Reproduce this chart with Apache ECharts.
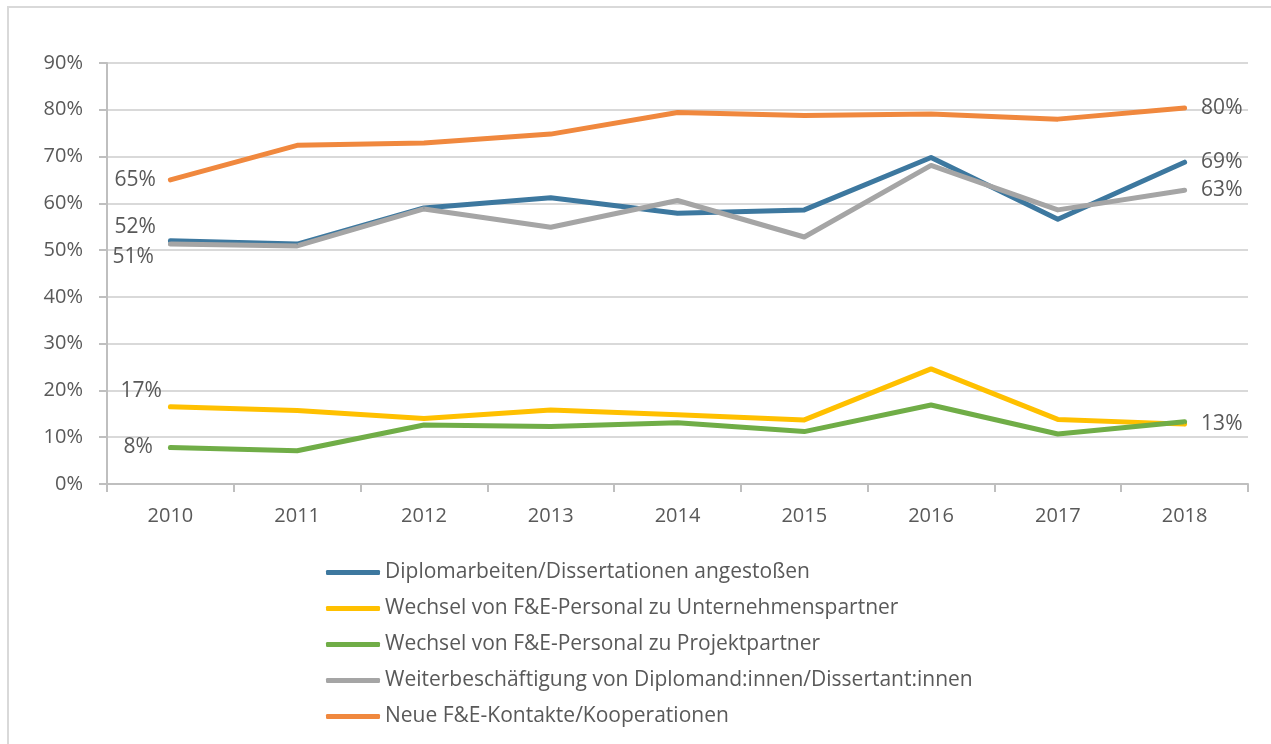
<!DOCTYPE html>
<html>
<head>
<meta charset="utf-8">
<script src="https://cdn.jsdelivr.net/npm/echarts@6/dist/echarts.min.js"></script>
<style>
  html, body { margin: 0; padding: 0; background: #fff; }
  #chart { width: 1271px; height: 744px; }
</style>
</head>
<body>
<div id="chart"></div>
<script>
// Jahre
const years = ['2010', '2011', '2012', '2013', '2014', '2015', '2016', '2017', '2018'];

// Anteile in %
const diplomarbeiten = [52.0, 51.3, 59.0, 61.2, 57.9, 58.6, 69.8, 56.6, 68.8];
const wechselUnternehmen = [16.5, 15.7, 14.0, 15.8, 14.8, 13.7, 24.6, 13.8, 12.8];
const wechselProjekt = [7.8, 7.1, 12.6, 12.3, 13.1, 11.2, 16.9, 10.7, 13.3];
const weiterbeschaeftigung = [51.3, 50.9, 58.8, 54.9, 60.6, 52.8, 68.1, 58.6, 62.8];
const neueKontakte = [65.0, 72.4, 72.9, 74.8, 79.4, 78.8, 79.1, 78.0, 80.4];

const yTicks = [0, 10, 20, 30, 40, 50, 60, 70, 80, 90];

const textColor = '#595959';
const fontFamily = '"Open Sans", sans-serif';

const chart = echarts.init(document.getElementById('chart'));

// Beschriftung nur am ersten und letzten Punkt
function withLabels(values, first, last) {
  return values.map((v, i) => {
    let lab = null;
    if (i === 0 && first) lab = first;
    if (i === values.length - 1 && last) lab = last;
    if (!lab) return v;
    return {
      value: v,
      label: Object.assign({
        show: true,
        formatter: (p) => Math.round(p.value) + '%',
        color: textColor,
        fontSize: 21,
        fontFamily: fontFamily
      }, lab)
    };
  });
}

function lineSeries(name, color, data) {
  return {
    name: name,
    type: 'line',
    data: data,
    // kleines Symbol, damit die Labels gezeichnet werden
    symbol: 'circle',
    symbolSize: 1,
    showSymbol: true,
    lineStyle: { color: color, width: 5, cap: 'round', join: 'round' },
    itemStyle: { color: color },
    emphasis: { disabled: true },
    animation: false
  };
}

const option = {
  backgroundColor: '#fff',
  graphic: [{
    type: 'rect',
    shape: { x: 8, y: 7, width: 1300, height: 800 },
    style: { fill: 'none', stroke: '#d9d9d9', lineWidth: 2 },
    silent: true
  }],
  grid: { left: 107, right: 23, top: 63, bottom: 260 },
  legend: {
    orient: 'vertical',
    left: 321,
    top: 557,
    itemWidth: 54,
    itemHeight: 5,
    itemGap: 15,
    icon: 'roundRect',
    textStyle: { color: textColor, fontSize: 21, fontFamily: fontFamily },
    data: [
      'Diplomarbeiten/Dissertationen angestoßen',
      'Wechsel von F&E-Personal zu Unternehmenspartner',
      'Wechsel von F&E-Personal zu Projektpartner',
      'Weiterbeschäftigung von Diplomand:innen/Dissertant:innen',
      'Neue F&E-Kontakte/Kooperationen'
    ]
  },
  xAxis: {
    type: 'category',
    data: years,
    boundaryGap: true,
    axisLine: { lineStyle: { color: '#bfbfbf', width: 2 } },
    axisTick: { show: true, length: 8, lineStyle: { color: '#bfbfbf', width: 2 } },
    axisLabel: { color: textColor, fontSize: 20, fontFamily: fontFamily, margin: 22 },
    splitLine: { show: false }
  },
  yAxis: {
    type: 'value',
    min: yTicks[0],
    max: yTicks[yTicks.length - 1],
    interval: 10,
    axisLine: { show: true, lineStyle: { color: '#bfbfbf', width: 2 } },
    axisTick: { show: true, length: 8, lineStyle: { color: '#bfbfbf', width: 2 } },
    axisLabel: { color: textColor, fontSize: 20, fontFamily: fontFamily, margin: 24, formatter: '{value}%' },
    splitLine: { lineStyle: { color: '#d9d9d9', width: 2 } }
  },
  series: [
    lineSeries('Diplomarbeiten/Dissertationen angestoßen', '#3d789f',
      withLabels(diplomarbeiten, { position: 'left', distance: 14, offset: [0, -14] }, { position: 'right', distance: 16 })),
    lineSeries('Wechsel von F&E-Personal zu Unternehmenspartner', '#ffc000',
      withLabels(wechselUnternehmen, { position: 'left', distance: 8, offset: [0, -16] }, null)),
    lineSeries('Wechsel von F&E-Personal zu Projektpartner', '#70ad47',
      withLabels(wechselProjekt, { position: 'left', distance: 17 }, { position: 'right', distance: 16, offset: [0, 2] })),
    lineSeries('Weiterbeschäftigung von Diplomand:innen/Dissertant:innen', '#a5a5a5',
      withLabels(weiterbeschaeftigung, { position: 'left', distance: 16, offset: [0, 13] }, { position: 'right', distance: 16 })),
    lineSeries('Neue F&E-Kontakte/Kooperationen', '#f0883e',
      withLabels(neueKontakte, { position: 'left', distance: 14 }, { position: 'right', distance: 16 }))
  ]
};

chart.setOption(option);
</script>
</body>
</html>
